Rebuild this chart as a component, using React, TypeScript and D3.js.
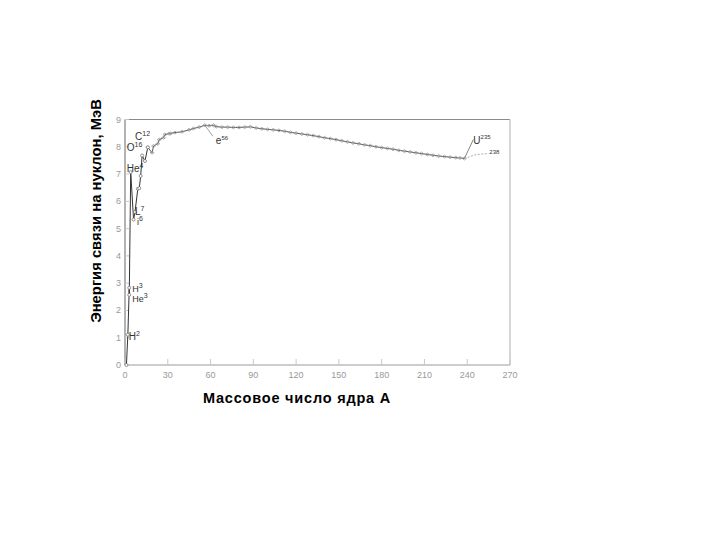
import React from "react";
import * as d3 from "d3";

const massNumbers = [1, 2, 3, 3, 4, 6, 7, 9, 10, 11, 12, 14, 16, 19, 20, 23, 24, 27, 28, 31, 32, 35, 40, 45, 48, 52, 56, 59, 62, 64, 68, 72, 76, 80, 84, 88, 92, 96, 100, 104, 108, 112, 116, 120, 124, 128, 132, 136, 140, 144, 148, 152, 156, 160, 164, 168, 172, 176, 180, 184, 188, 192, 196, 200, 204, 208, 212, 216, 220, 224, 228, 232, 235, 238];
const bindingEnergy = [0, 1.11, 2.83, 2.57, 7.07, 5.33, 5.61, 6.46, 6.48, 6.93, 7.68, 7.48, 7.98, 7.78, 8.03, 8.11, 8.26, 8.33, 8.45, 8.48, 8.49, 8.52, 8.55, 8.62, 8.67, 8.72, 8.79, 8.77, 8.79, 8.74, 8.72, 8.72, 8.71, 8.71, 8.72, 8.73, 8.69, 8.66, 8.64, 8.62, 8.6, 8.57, 8.53, 8.5, 8.47, 8.44, 8.41, 8.37, 8.33, 8.3, 8.26, 8.22, 8.18, 8.14, 8.11, 8.07, 8.04, 8.0, 7.97, 7.94, 7.91, 7.87, 7.84, 7.81, 7.78, 7.75, 7.72, 7.69, 7.66, 7.64, 7.62, 7.6, 7.59, 7.57];

const xTicks = [0, 30, 60, 90, 120, 150, 180, 210, 240, 270];
const yTicks = [0, 1, 2, 3, 4, 5, 6, 7, 8, 9];

const xTitle = "Массовое число ядра A";
const yTitle = "Энергия связи на нуклон, МэВ";

// nuclide labels: [base, superscript, A, E, dx, dy, size]
const nuclideLabels: [string, string, number, number, number, number, number][] = [
  ["He", "4", 4, 7.07, -4, 0, 10],
  ["C", "12", 12, 7.68, -7, -16, 10],
  ["O", "16", 16, 7.98, -21, 4, 10],
  ["L", "7", 7, 5.61, 0, 3, 10],
  ["i", "6", 7, 5.61, 2, 13, 9],
  ["H", "3", 3, 2.83, 3, 4, 9],
  ["He", "3", 3, 2.57, 3, 7, 9],
  ["H", "2", 2, 1.11, 1, 5, 10],
];

export default function App() {
  const x0 = 125, x1 = 510, y0 = 365, y1 = 119.5;
  const x = d3.scaleLinear().domain([0, 270]).range([x0, x1]);
  const y = d3.scaleLinear().domain([0, 9]).range([y0, y1]);
  const pts = massNumbers.map((a, i) => [a, bindingEnergy[i]] as [number, number]);
  const line = d3.line<[number, number]>().x(d => x(d[0])).y(d => y(d[1]));
  const heavy = pts.filter(p => p[0] >= 16);
  const light = pts.filter(p => p[0] <= 16);
  const fe = pts.find(p => p[0] === 56)!;
  const u = pts[pts.length - 1];
  const font = "'Liberation Sans', Arial, sans-serif";
  return (
    <svg width={720} height={540} style={{ position: "absolute", left: 0, top: 0, background: "#fff" }} fontFamily={font}>
      {/* frame */}
      <line x1={x0} x2={x1} y1={y1} y2={y1} stroke="#8a8a8a" strokeWidth={1} />
      <line x1={x1} x2={x1} y1={y1} y2={y0} stroke="#c8c8c8" strokeWidth={1.5} />
      <line x1={x0} x2={x1} y1={y0} y2={y0} stroke="#9a9a9a" strokeWidth={1} />
      <line x1={x0} x2={x0} y1={y1} y2={y0} stroke="#666" strokeWidth={1} />
      {xTicks.map(t => (
        <g key={"x" + t}>
          <line x1={x(t)} x2={x(t)} y1={y0} y2={y0 - 6} stroke="#c8c8c8" />
          <text x={x(t)} y={y0 + 13} fontSize={9} fill="#999" textAnchor="middle">{t}</text>
        </g>
      ))}
      {yTicks.map(t => (
        <g key={"y" + t}>
          <line x1={x0} x2={x0 + 4} y1={y(t)} y2={y(t)} stroke="#c8c8c8" />
          <text x={x0 - 4} y={y(t) + 3} fontSize={9} fill="#999" textAnchor="end">{t}</text>
        </g>
      ))}
      {/* curve */}
      <path d={line(light) || ""} fill="none" stroke="#333" strokeWidth={1} />
      <path d={line(heavy) || ""} fill="none" stroke="#555" strokeWidth={1} />
      {heavy.map((p, i) => (
        <path key={"m" + i} d={`M${x(p[0]) - 2},${y(p[1])}L${x(p[0])},${y(p[1]) - 1.5}L${x(p[0]) + 2},${y(p[1])}L${x(p[0])},${y(p[1]) + 1.5}Z`} fill="none" stroke="#999" strokeWidth={0.8} />
      ))}
      {light.map((p, i) => (
        <circle key={"l" + i} cx={x(p[0])} cy={y(p[1])} r={1.5} fill="#fff" stroke="#777" strokeWidth={0.8} />
      ))}
      {nuclideLabels.map(([b, s, a, e, dx, dy, fs], i) => (
        <text key={"n" + i} x={x(a) + dx} y={y(e) + dy} fontSize={fs} fill="#333">
          {b}<tspan fontSize={7} dy={-4}>{s}</tspan>
        </text>
      ))}
      {/* Fe56 */}
      <line x1={x(fe[0])} x2={x(fe[0]) + 8} y1={y(fe[1])} y2={y(fe[1]) + 11} stroke="#888" strokeWidth={0.8} />
      <text x={x(fe[0]) + 11} y={y(fe[1]) + 19} fontSize={10} fill="#333">e<tspan fontSize={6} dy={-4}>56</tspan></text>
      {/* U */}
      <line x1={x(u[0])} x2={x(u[0]) + 9} y1={y(u[1])} y2={y(u[1]) - 19} stroke="#666" strokeWidth={0.8} />
      <text x={x(u[0]) + 9} y={y(u[1]) - 15} fontSize={10} fill="#333">U<tspan fontSize={6} dy={-5}>235</tspan></text>
      <path d={`M${x(u[0])},${y(u[1])}L${x(u[0]) + 12},${y(u[1]) - 4}L${x(u[0]) + 24},${y(u[1]) - 5}`} fill="none" stroke="#999" strokeWidth={0.8} strokeDasharray="2,1.5" />
      <text x={x(u[0]) + 25} y={y(u[1]) - 5} fontSize={6} fill="#333">238</text>
      {/* titles */}
      <text x={297} y={403} fontSize={14.5} fontWeight="bold" letterSpacing={0.8} textAnchor="middle" fill="#000">{xTitle}</text>
      <text transform={`translate(101,211) rotate(-90)`} fontSize={14.8} fontWeight="bold" textAnchor="middle" fill="#000">{yTitle}</text>
    </svg>
  );
}
